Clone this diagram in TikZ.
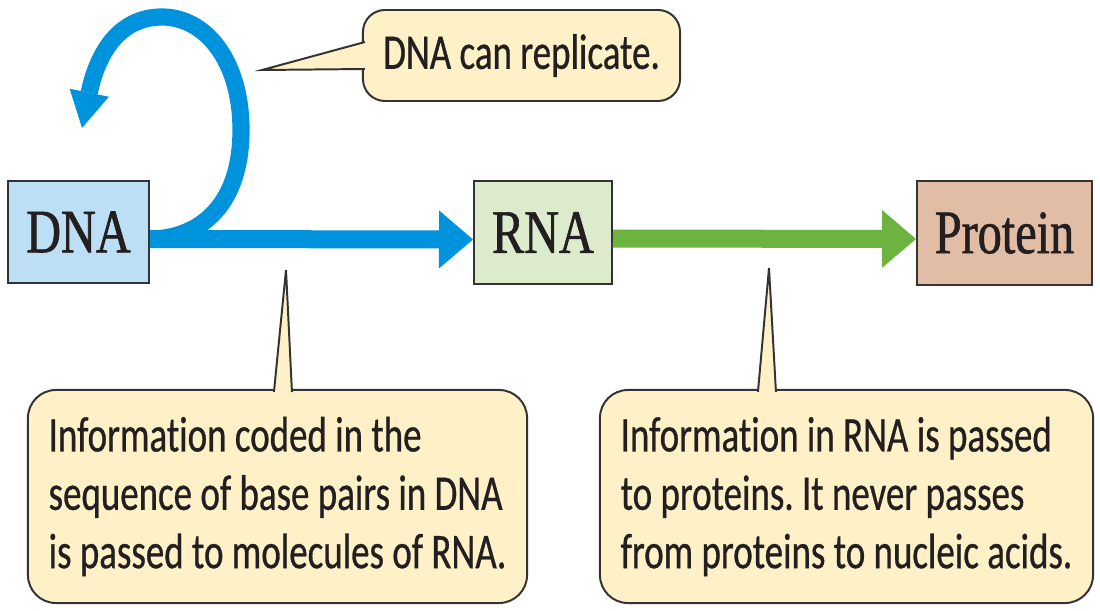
\documentclass[tikz,border=0pt]{standalone}
\usepackage{fontspec}
\usetikzlibrary{arrows.meta,calc}
\newfontfamily\calloutfont[FakeStretch=0.74, FakeBold=0.6, Ligatures=NoCommon]{Carlito}
\newfontfamily\boxfont[FakeStretch=0.78, FakeBold=1]{Liberation Serif}
\frenchspacing
\definecolor{dnablue}{HTML}{0093DD}
\definecolor{rnagreen}{HTML}{6CB33F}
\definecolor{dnafill}{HTML}{BDDFF6}
\definecolor{rnafill}{HTML}{DCEBCC}
\definecolor{protfill}{HTML}{E2BDA6}
\definecolor{callfill}{HTML}{FEF1C7}
\definecolor{edge}{HTML}{333333}
\definecolor{ink}{HTML}{231F20}
\tikzset{
  molbox/.style={draw=edge, line width=1.4pt, inner sep=0pt, text=ink,
    font=\boxfont\fontsize{44}{50}\selectfont},
  callout/.style={draw=edge, fill=callfill, line width=1.4pt, inner sep=0pt,
    text=ink, align=left, font=\calloutfont\fontsize{35.5}{41.5}\selectfont\frenchspacing},
  pointer/.style={fill=callfill, draw=edge, line width=1.4pt, line join=miter},
  flowarrow/.style={line width=0.45cm,
    -{Triangle[length=0.85cm, width=1.45cm, line width=0pt]}},
  looparrow/.style={draw=dnablue, line width=0.43cm,
    -{Triangle[length=0.9cm, width=1.0cm, line width=0pt]}}
}
\begin{document}
\begin{tikzpicture}[x=0.025cm, y=-0.025cm]
\useasboundingbox (0,0) rectangle (1100,611);
\fill[white] (0,0) rectangle (1100,611);

% molecule boxes
\node[molbox, fill=dnafill, minimum width=3.525cm, minimum height=2.55cm] (dna) at (78.5,232) {DNA};
\node[molbox, fill=rnafill, minimum width=3.45cm, minimum height=2.575cm] (rna) at (543,232.5) {RNA};
\node[molbox, fill=protfill, minimum width=4.375cm, minimum height=2.6cm] (prot) at (1004.5,233) {Protein};

% callouts
\node[callout, rounded corners=0.55cm, minimum width=7.925cm, minimum height=2.275cm] (c3) at (521.5,55.5) {DNA can replicate.};
\node[callout, rounded corners=0.7cm, minimum width=12.475cm, minimum height=5.325cm] (c1) at (277.5,496.5)
  {Information coded in the\\sequence of base pairs in DNA\\is passed to molecules of RNA.};
\node[callout, rounded corners=0.7cm, minimum width=12.325cm, minimum height=5.325cm] (c2) at (846.5,496.5)
  {Information in RNA is passed\\to proteins. It never passes\\from proteins to nucleic acids.};

% pointer tips
\coordinate (t1) at (286,270);
\coordinate (t2) at (769,268);
\coordinate (t3) at (262,70);
\filldraw[pointer] ($(c1.north west)+(247,3)$) -- (t1) -- ($(c1.north west)+(265,3)$);
\filldraw[pointer] ($(c2.north west)+(159,3)$) -- (t2) -- ($(c2.north west)+(177,3)$);
\filldraw[pointer] ($(c3.north west)+(3,33)$) -- (t3) -- ($(c3.north west)+(3,60)$);

% replication loop
\coordinate (lt) at (82,128);
\draw[looparrow] ([yshift=-0.175cm]dna.east) .. controls (195,239) and (241,210) .. (241,130)
  .. controls (241,60) and (205,17) .. (162,17)
  .. controls (118,17) and (97,55) .. (lt);

% flow arrows
\draw[flowarrow, draw=dnablue, fill=dnablue] ([yshift=-0.175cm]dna.east) -- ([yshift=-0.175cm]rna.west);
\draw[flowarrow, draw=rnagreen, fill=rnagreen] ([yshift=-0.15cm]rna.east) -- ([yshift=-0.15cm]prot.west);
\end{tikzpicture}
\end{document}
